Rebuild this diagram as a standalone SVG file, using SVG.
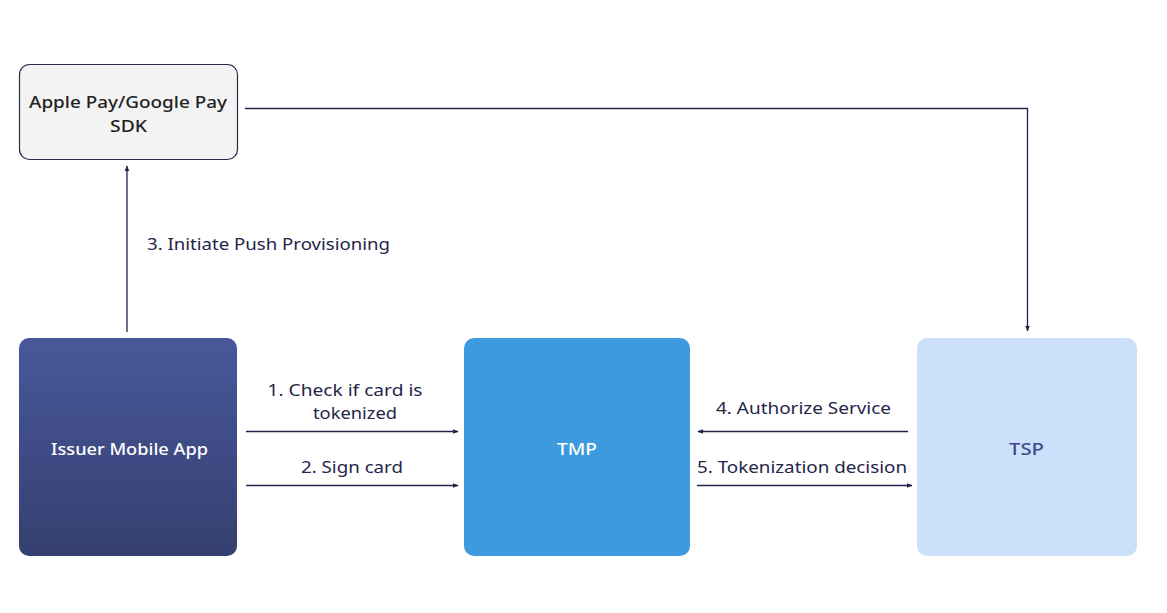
<svg xmlns="http://www.w3.org/2000/svg" width="1167" height="613" viewBox="0 0 1167 613">
<style>
.lbl{font-family:"Noto Sans","Open Sans","Liberation Sans",sans-serif;font-size:16.5px;fill:#25254a}
.nt{font-family:"Noto Sans","Open Sans","Liberation Sans",sans-serif;font-size:17px;font-weight:500;text-anchor:middle}
.ln{stroke:#23234a;stroke-width:1.3;fill:none}
</style>
<defs>
<linearGradient id="gIssuer" x1="0" y1="0" x2="0" y2="1">
<stop offset="0" stop-color="#48589a"/>
<stop offset="1" stop-color="#353f70"/>
</linearGradient>
<marker id="ah" viewBox="0 0 10 10" refX="9" refY="5" markerWidth="6" markerHeight="6" orient="auto" markerUnits="userSpaceOnUse">
<path d="M0,1 L10,5 L0,9 Z" fill="#23234a"/>
</marker>
</defs>
<rect width="1167" height="613" fill="#ffffff"/>
<g id="sdk">
<rect x="19.5" y="64.5" width="218" height="95" rx="10" fill="#f3f3f3" stroke="#2a2a4a" stroke-width="1.2"/>
<text class="nt" x="128" y="108" fill="#222222" textLength="198" lengthAdjust="spacingAndGlyphs">Apple Pay/Google Pay</text>
<text class="nt" x="128.5" y="132" fill="#222222" textLength="37" lengthAdjust="spacingAndGlyphs">SDK</text>
</g>
<g id="issuer">
<rect x="19" y="338" width="218" height="218" rx="10" fill="url(#gIssuer)"/>
<text class="nt" x="129.5" y="455" fill="#ffffff" textLength="157" lengthAdjust="spacingAndGlyphs">Issuer Mobile App</text>
</g>
<g id="tmp">
<rect x="464" y="338" width="226" height="218" rx="10" fill="#3d9ade"/>
<text class="nt" x="577" y="455" fill="#ffffff" textLength="40" lengthAdjust="spacingAndGlyphs">TMP</text>
</g>
<g id="tsp">
<rect x="917" y="338" width="220" height="218" rx="10" fill="#cce0fc"/>
<text class="nt" x="1026.5" y="455" fill="#3b4a8a" textLength="35" lengthAdjust="spacingAndGlyphs">TSP</text>
</g>
<g id="connectors">
<line class="ln" x1="127" y1="332" x2="127" y2="166" marker-end="url(#ah)"/>
<polyline class="ln" points="245,108.5 1027.5,108.5 1027.5,331" marker-end="url(#ah)"/>
<line class="ln" x1="246" y1="431.5" x2="458" y2="431.5" marker-end="url(#ah)"/>
<line class="ln" x1="246" y1="485.5" x2="458" y2="485.5" marker-end="url(#ah)"/>
<line class="ln" x1="908" y1="431.5" x2="698" y2="431.5" marker-end="url(#ah)"/>
<line class="ln" x1="697" y1="485.5" x2="912" y2="485.5" marker-end="url(#ah)"/>
<text class="lbl" x="147" y="250" textLength="243" lengthAdjust="spacingAndGlyphs">3. Initiate Push Provisioning</text>
<text class="lbl" x="345" y="396" text-anchor="middle" textLength="155" lengthAdjust="spacingAndGlyphs">1. Check if card is</text>
<text class="lbl" x="355" y="419" text-anchor="middle" textLength="84" lengthAdjust="spacingAndGlyphs">tokenized</text>
<text class="lbl" x="352" y="473" text-anchor="middle" textLength="102" lengthAdjust="spacingAndGlyphs">2. Sign card</text>
<text class="lbl" x="803.5" y="414" text-anchor="middle" textLength="175" lengthAdjust="spacingAndGlyphs">4. Authorize Service</text>
<text class="lbl" x="802" y="473" text-anchor="middle" textLength="210" lengthAdjust="spacingAndGlyphs">5. Tokenization decision</text>
</g>
</svg>
